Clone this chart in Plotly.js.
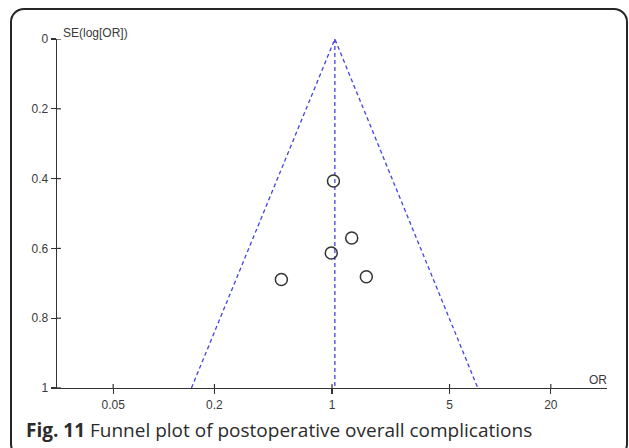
<!DOCTYPE html>
<html>
<head>
<meta charset="utf-8">
<script src="https://cdn.plot.ly/plotly-3.0.1.min.js"></script>
<style>
  html, body { margin: 0; padding: 0; background: #fff; }
  #wrap { position: relative; width: 629px; height: 448px; overflow: hidden; }
  #chart { position: absolute; left: 0; top: 0; width: 629px; height: 448px; }
  #frame { position: absolute; left: 10px; top: 8px; width: 618px; height: 450px;
           border: 2px solid #262626; border-radius: 14px; pointer-events: none; box-sizing: border-box; }
</style>
</head>
<body>
<div id="wrap">
  <div id="chart"></div>
  <div id="frame"></div>
</div>
<script>
// Study estimates
const studyOR = [1.02, 1.31, 0.99, 0.50, 1.60];
const studySE = [0.407, 0.570, 0.613, 0.689, 0.681];
// Funnel (pseudo 95% CI) limits
const funnelOR = [0.146, 1.04, 7.36];
const funnelSE = [1, 0, 1];
// Pooled estimate line
const pooledOR = [1.04, 1.04];
const pooledSE = [0, 1];
// Axis ticks
const xTicks = [0.05, 0.2, 1, 5, 20];
const xTickText = ['0.05', '0.2', '1', '5', '20'];
const yTicks = [0, 0.2, 0.4, 0.6, 0.8, 1];
const yTickText = ['0', '0.2', '0.4', '0.6', '0.8', '1'];

const W = 629, H = 448;
const L = 57, R = 22, T = 39, B = 60;
const pw = W - L - R, ph = H - T - B;
const px = v => (v - L) / pw;
const py = v => (H - B - v) / ph;

const lineColor = '#4343e3';
const axisColor = '#333333';
const tickFont = { family: 'Liberation Sans, Arial, sans-serif', size: 12, color: '#3a3a3a' };

const traces = [
  { x: funnelOR, y: funnelSE, type: 'scatter', mode: 'lines',
    line: { color: lineColor, width: 1.3, dash: '4px,3px' }, hoverinfo: 'skip' },
  { x: pooledOR, y: pooledSE, type: 'scatter', mode: 'lines',
    line: { color: lineColor, width: 1.3, dash: '4px,3px' }, hoverinfo: 'skip' },
  { x: studyOR, y: studySE, type: 'scatter', mode: 'markers',
    marker: { symbol: 'circle-open', size: 12, color: '#333333', line: { width: 1.5, color: '#333333' } } }
];

// inner halves of the crossing tick marks
const tickShapes = [];
xTicks.forEach(v => tickShapes.push({ type: 'line', xref: 'x', yref: 'paper',
  x0: v, x1: v, y0: 0, y1: 4 / ph, line: { color: axisColor, width: 1.2 } }));
yTicks.forEach(v => tickShapes.push({ type: 'line', xref: 'paper', yref: 'y',
  x0: 0, x1: 4 / pw, y0: v, y1: v, line: { color: axisColor, width: 1.2 } }));

const xr = [-1.635, 1.635];
const layout = {
  width: W, height: H,
  margin: { l: L, r: R, t: T, b: B, pad: 0 },
  paper_bgcolor: '#ffffff', plot_bgcolor: '#ffffff',
  showlegend: false,
  xaxis: {
    type: 'log', range: xr, tickvals: xTicks, ticktext: xTickText,
    showgrid: false, zeroline: false, showline: true, linecolor: axisColor, linewidth: 1.3,
    ticks: 'outside', ticklen: 5, tickwidth: 1.2, tickcolor: axisColor, tickfont: tickFont
  },
  yaxis: {
    range: [1, 0], tickvals: yTicks, ticktext: yTickText,
    showgrid: false, zeroline: false, showline: true, linecolor: axisColor, linewidth: 1.3,
    ticks: 'outside', ticklen: 5, tickwidth: 1.2, tickcolor: axisColor, tickfont: tickFont
  },
  shapes: tickShapes,
  annotations: [
    { text: 'SE(log[OR])', xref: 'paper', yref: 'paper', x: px(61), y: py(33),
      xanchor: 'left', yanchor: 'middle', showarrow: false, font: tickFont },
    { text: 'OR', xref: 'paper', yref: 'paper', x: px(609), y: py(380),
      xanchor: 'right', yanchor: 'middle', showarrow: false, font: tickFont },
    { text: '<b>Fig. 11</b> Funnel plot of postoperative overall complications',
      xref: 'paper', yref: 'paper', x: px(24), y: py(430),
      xanchor: 'left', yanchor: 'middle', showarrow: false,
      font: { family: 'Open Sans, Noto Sans, sans-serif', size: 19, color: '#2b2b2b' } }
  ]
};

Plotly.newPlot('chart', traces, layout, { displayModeBar: false, staticPlot: true });
</script>
</body>
</html>
